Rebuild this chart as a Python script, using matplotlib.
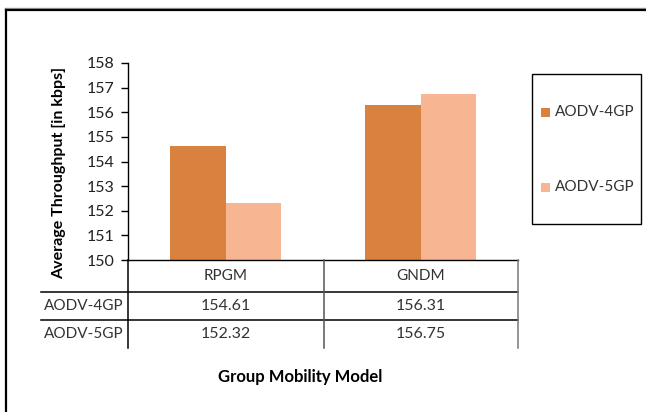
import matplotlib.pyplot as plt
import numpy as np
from matplotlib.lines import Line2D
from matplotlib.patches import Rectangle

# throughput per group mobility model
categories = ['RPGM', 'GNDM']
series_names = ['AODV-4GP', 'AODV-5GP']
aodv_4gp = [154.61, 156.31]
aodv_5gp = [152.32, 156.75]
y_ticks = [150, 151, 152, 153, 154, 155, 156, 157, 158]

colors = ['#D9823F', '#F7B592']
W, H = 646, 412
font = ['Lato', 'DejaVu Sans']
plt.rcParams['font.family'] = font


def fx(px):
    return px / W


def fy(py):
    return 1 - py / H


fig = plt.figure(figsize=(W / 100, H / 100), dpi=100)

# plot area in pixel coordinates
left, right, top, bottom = 128, 518, 63, 260
ax = fig.add_axes([fx(left), fy(bottom), fx(right - left), (bottom - top) / H])

x = np.arange(len(categories)) + 0.5
width = 0.286
for i, (vals, name) in enumerate(zip([aodv_4gp, aodv_5gp], series_names)):
    offset = (i - 0.5) * width
    ax.bar(x + offset, np.array(vals) - 150, width, bottom=150,
           color=colors[i], label=name, linewidth=0)

ax.set_xlim(0, len(categories))
ax.set_ylim(150, 158)
ax.set_yticks(y_ticks)
ax.set_yticklabels([str(t) for t in y_ticks], fontsize=11.5, color='#222222')
ax.set_xticks([])
ax.tick_params(axis='y', direction='out', length=5, width=1, pad=5)
for s in ['top', 'right']:
    ax.spines[s].set_visible(False)
ax.spines['left'].set_linewidth(1)
ax.spines['bottom'].set_linewidth(1)

ax.set_ylabel('Average Throughput [in kbps]', fontsize=11.5, fontweight='bold')
ax.yaxis.set_label_coords(-0.158, 0.44)

# data table below the plot
lines = []
row_y = [260, 292, 320, 348]
for yy in row_y[1:3]:
    lines.append(((41, yy), (518, yy), 'black'))
for xx, col in [(128, 'black'), (324, '#555555'), (518, '#777777')]:
    lines.append(((xx, 260), (xx, 348), col))
for (x0, y0), (x1, y1), col in lines:
    fig.add_artist(Line2D([fx(x0), fx(x1)], [fy(y0), fy(y1)], color=col,
                          linewidth=1.1, transform=fig.transFigure))

col_centers = [226, 421]
for cx, cat in zip(col_centers, categories):
    fig.text(fx(cx), fy(276), cat, ha='center', va='center', fontsize=11,
             color='#333333')
for r, (name, vals) in enumerate(zip(series_names, [aodv_4gp, aodv_5gp])):
    ry = (row_y[r + 1] + row_y[r + 2]) / 2
    fig.text(fx(84), fy(ry), name, ha='center', va='center', fontsize=11,
             color='#333333')
    for cx, v in zip(col_centers, vals):
        fig.text(fx(cx), fy(ry), f'{v:.2f}', ha='center', va='center',
                 fontsize=11.5, color='#333333')

fig.text(fx(300), fy(377), 'Group Mobility Model', ha='center', va='center',
         fontsize=12, fontweight='bold')

# legend box
fig.add_artist(Rectangle((fx(532), fy(224)), fx(641 - 532), (224 - 74) / H,
                         transform=fig.transFigure, facecolor='white',
                         edgecolor='black', linewidth=1))
for name, col, ly in zip(series_names, colors, [112, 187]):
    fig.add_artist(Rectangle((fx(541), fy(ly + 4.5)), fx(9), 9 / H,
                             transform=fig.transFigure, facecolor=col,
                             edgecolor='none'))
    fig.text(fx(555), fy(ly), name, ha='left', va='center', fontsize=11,
             color='#333333')

# outer chart border
fig.add_artist(Line2D([fx(5), fx(646)], [fy(8), fy(8)], color='#999999',
                      linewidth=1, transform=fig.transFigure))
fig.add_artist(Line2D([fx(6), fx(646)], [fy(9.5), fy(9.5)], color='black',
                      linewidth=1.6, transform=fig.transFigure))
fig.add_artist(Line2D([fx(6), fx(6)], [fy(9.5), fy(412)], color='black',
                      linewidth=1.6, transform=fig.transFigure))

fig.savefig('out.png', dpi=100)
